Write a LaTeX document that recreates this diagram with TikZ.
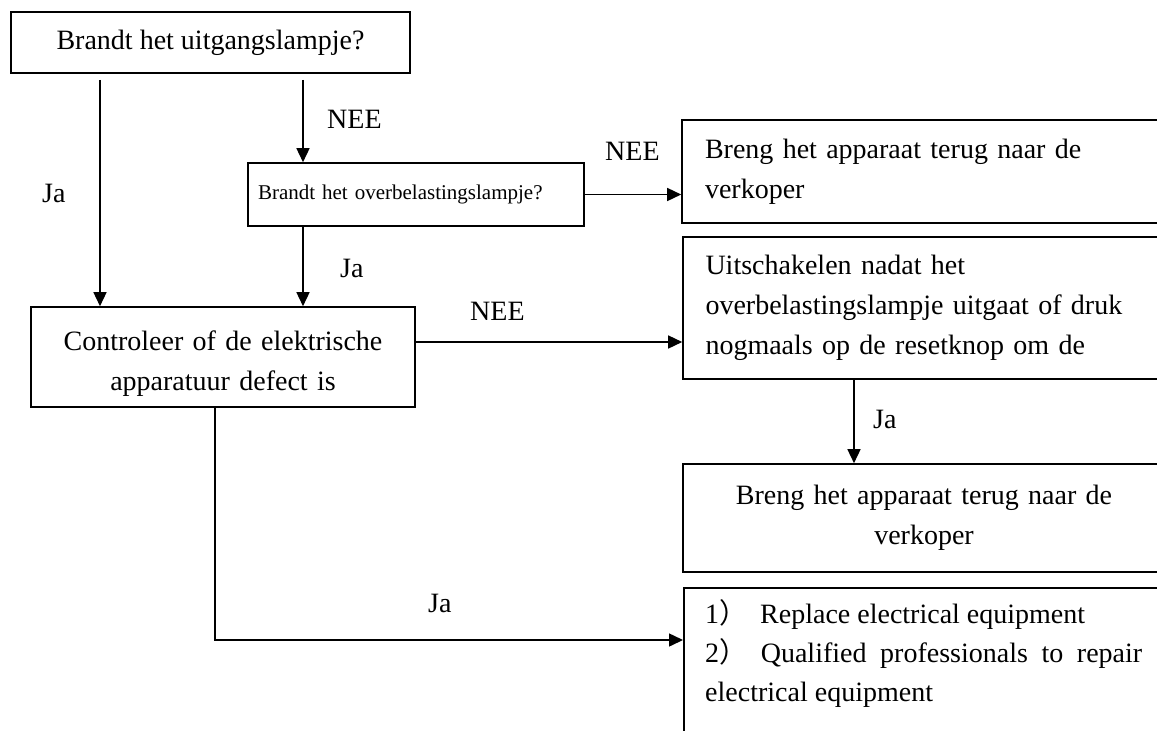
\documentclass[tikz,border=0pt]{standalone}
\usepackage{fontspec}
\setmainfont{Liberation Serif}
\newfontfamily\cjk{Noto Sans CJK SC}
\usetikzlibrary{arrows.meta}
\setlength{\parindent}{0pt}
\begin{document}
\begin{tikzpicture}[x=1pt,y=-1pt,
  box/.style={draw,line width=1.6pt,inner sep=0pt,font=\fontsize{28}{40}\selectfont},
  conn/.style={line width=1.5pt,-{Triangle[length=14pt,width=13pt]}},
  lbl/.style={anchor=base west,inner sep=0pt,font=\fontsize{28}{40}\selectfont}]
\path[use as bounding box,clip] (0,0) rectangle (1157,731);
% boxes
\node[box,minimum width=399pt,minimum height=61pt] (b1) at (210.5,42.5) {Brandt het uitgangslampje?};
\node[box,minimum width=336pt,minimum height=63pt,text width=316pt,align=left,font=\fontsize{21}{30}\selectfont] (b2) at (416,194.5) {Brandt het overbelastingslampje?};
\node[box,minimum width=483pt,minimum height=103pt,text width=437pt,align=left] (b3) at (923.5,171.5) {Breng het apparaat terug naar de\\verkoper};
\node[box,minimum width=384pt,minimum height=100pt,text width=360pt,align=center] (b4) at (223,357) {\rule{0pt}{32pt}Controleer of de elektrische\\apparatuur defect is};
\node[box,minimum width=482pt,minimum height=142pt,text width=437pt,align=left] (b5) at (924,308) {Uitschakelen nadat het\\overbelastingslampje uitgaat of druk\\nogmaals op de resetknop om de};
\node[box,minimum width=482pt,minimum height=108pt,text width=437pt,align=center] (b6) at (924,518) {Breng het apparaat terug naar de\\verkoper};
\node[box,anchor=north west,minimum width=482pt,minimum height=200pt] (b7) at (683,587) {};
\node[anchor=north west,inner xsep=22pt,inner ysep=8.7pt,text width=437pt,align=justify,font=\fontsize{28}{39}\selectfont] (t7) at (b7.north west) {\strut 1{\cjk ）}\hspace{13pt}Replace electrical equipment\par 2{\cjk ）}\ Qualified professionals to repair electrical equipment};
% helper coordinates
\coordinate (X1) at (100,0);
\coordinate (X2) at (303,0);
\coordinate (X3) at (854,0);
\coordinate (X4) at (215,0);
\coordinate (Y1) at (0,342);
\coordinate (Y2) at (0,640);
% connectors
\draw[conn,shorten <=6pt] (b1.south -| X1) -- (b4.north -| X1);
\draw[conn,shorten <=6pt] (b1.south -| X2) -- (b2.north -| X2);
\draw[conn] (b2.east) -- (b2.east -| b3.west);
\draw[conn] (b2.south -| X2) -- (b4.north -| X2);
\draw[conn] (b4.east |- Y1) -- (b5.west |- Y1);
\draw[conn] (b5.south -| X3) -- (b6.north -| X3);
\draw[conn] (b4.south -| X4) |- (b7.west |- Y2);
% labels
\node[lbl] (l1) at (42,202) {Ja};
\node[lbl] (l2) at (327,128) {NEE};
\node[lbl] (l3) at (605,160) {NEE};
\node[lbl] (l4) at (340,277) {Ja};
\node[lbl] (l5) at (470,320) {NEE};
\node[lbl] (l6) at (873,428) {Ja};
\node[lbl] (l7) at (428,612) {Ja};
\end{tikzpicture}
\end{document}
